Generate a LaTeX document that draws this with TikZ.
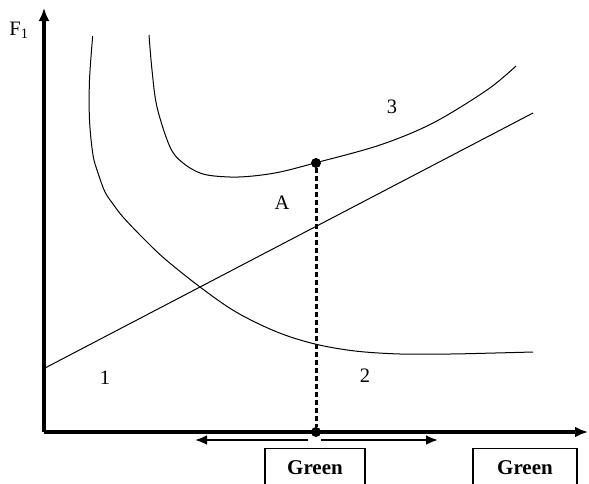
\documentclass[tikz,border=0pt]{standalone}
\usepackage{fontspec}
\setmainfont{Liberation Serif}
\usetikzlibrary{arrows.meta}

\begin{document}
\begin{tikzpicture}[x=1pt, y=-1pt,
    axis/.style={-{Latex[length=13pt, width=11pt]}, line width=3.2pt},
    curve/.style={line width=1pt, smooth, tension=0.55},
    guide/.style={line width=3pt, dash pattern=on 5pt off 3pt},
    shiftarrow/.style={-{Latex[length=12pt, width=10pt]}, line width=2.6pt},
    dot/.style={circle, fill=black, inner sep=0pt, minimum size=10pt},
    lbl/.style={inner sep=0pt, font=\fontsize{20.5}{24}\selectfont},
    greenbox/.style={draw, line width=1.1pt, anchor=north, minimum width=100pt,
        minimum height=38pt, inner sep=0pt, font=\bfseries\fontsize{21}{24}\selectfont}]
\useasboundingbox (0,0) rectangle (589,483);

% axes
\coordinate (O)    at (44,432);
\coordinate (ytop) at (44,8);
\coordinate (xend) at (588,432);
\draw[axis] (O) -- (ytop);
\draw[axis] (O) -- (xend);
\node[lbl] (f1) at (19,30) {F\textsubscript{1}};

% curves 1 and 3
\draw[curve] plot coordinates {(92.7,36) (89.5,80) (89.5,120) (93,155) (98,173)
    (105,192) (113,204) (123,217) (143,238) (165,259) (200,287) (236,312)
    (277,332) (315,344) (355,351) (400,354) (450,354) (495,353) (533,352)};
\draw[curve] plot coordinates {(149,35) (152,70) (157,107) (170,147) (183,163)
    (203,174) (230,177) (253,176) (280,172) (315,163) (380,145) (433,123)
    (487,90) (516,66)};

% straight line
\coordinate (l1) at (45,368);
\coordinate (l2) at (533,113);
\draw[curve] (l1) -- (l2);

% point and its foot
\node[dot] (P) at (316,163) {};
\node[dot] (Q) at (316,432) {};
\draw[guide] (P) -- (Q);

% shift arrows
\coordinate (sl) at (308,440);
\coordinate (sr) at (321,440);
\coordinate (el) at (195,440);
\coordinate (er) at (438,440);
\draw[shiftarrow] (sl) -- (el);
\draw[shiftarrow] (sr) -- (er);

% labels
\node[lbl] (n3) at (392,107) {3};
\node[lbl] (nA) at (282,203) {A};
\node[lbl] (n1) at (105,378) {1};
\node[lbl] (n2) at (365,376) {2};

\node[greenbox] (g1) at (315,448) {Green};
\node[greenbox, minimum width=104pt] (g2) at (525,448) {Green};
\end{tikzpicture}
\end{document}
